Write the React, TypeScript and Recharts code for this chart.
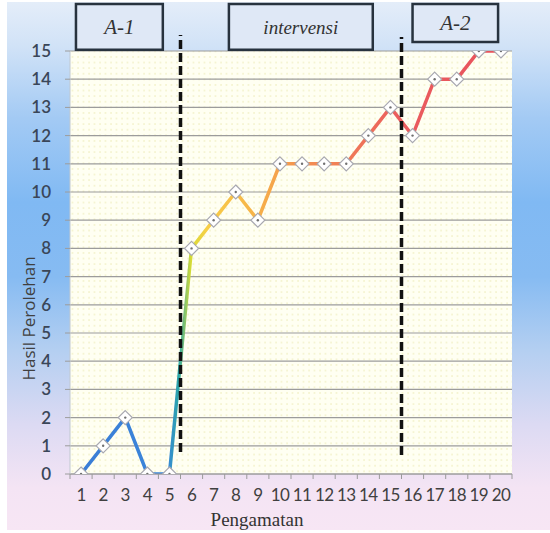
import React from 'react';
import {
  LineChart,
  Line,
  XAxis,
  YAxis,
  CartesianGrid,
  ReferenceLine,
  ReferenceArea,
} from 'recharts';

const observations = [1, 2, 3, 4, 5, 6, 7, 8, 9, 10, 11, 12, 13, 14, 15, 16, 17, 18, 19, 20];
const scores = [0, 1, 2, 0, 0, 8, 9, 10, 9, 11, 11, 11, 11, 12, 13, 12, 14, 14, 15, 15];
const yTicks = [0, 1, 2, 3, 4, 5, 6, 7, 8, 9, 10, 11, 12, 13, 14, 15];
const phaseLabels = ['A-1', 'intervensi', 'A-2'];
const phaseSpans = [
  [0.77, 4.7, 15.04, 16.67],
  [7.69, 14.2, 15.04, 16.67],
  [16.0, 19.87, 15.32, 16.67],
];
const phaseBreaks = [
  [5.5, 0.78, 15.57],
  [15.5, 0.67, 15.5],
];

const data = observations.map((x, i) => ({ x, y: scores[i] }));

const W = 550;
const H = 533;
const M = { top: 51, right: 38, bottom: 0, left: 0 };
const Y_W = 70;
const X_H = 59;
const STEP = (W - M.left - M.right - Y_W) / observations.length;

const XTick = (props: any) => {
  const { x, y, payload } = props;
  const last = payload.value === observations[observations.length - 1];
  return (
    <g>
      <line x1={x - STEP / 2} x2={x - STEP / 2} y1={y} y2={y + 5} stroke="#9a9a9a" />
      {last && <line x1={x + STEP / 2} x2={x + STEP / 2} y1={y} y2={y + 5} stroke="#9a9a9a" />}
      <text
        x={x}
        y={y + 27}
        textAnchor="middle"
        fontFamily="Lato, 'Open Sans', sans-serif"
        fontSize={17}
        fill="#404040"
        letterSpacing={-0.6}
      >
        {payload.value}
      </text>
    </g>
  );
};

const Diamond = (props: any) => {
  const { cx, cy } = props;
  if (cx == null || cy == null) return null;
  const r = 7;
  return (
    <g>
      <polygon
        points={`${cx},${cy - r} ${cx + r},${cy} ${cx},${cy + r} ${cx - r},${cy}`}
        fill="#ffffff"
        stroke="#a8a8b0"
        strokeWidth={1.2}
      />
      <circle cx={cx} cy={cy} r={1.2} fill="#707070" />
    </g>
  );
};

const BoxLabel = (props: any) => {
  const { viewBox, value } = props;
  if (!viewBox) return null;
  const { x, y, width, height } = viewBox;
  return (
    <text
      x={x + width / 2}
      y={y + height / 2 + 7}
      textAnchor="middle"
      fontFamily="'Liberation Serif', 'DejaVu Serif', serif"
      fontStyle="italic"
      fontSize={value === 'intervensi' ? 19 : 21}
      fill="#333333"
    >
      {value}
    </text>
  );
};

const XTitle = (props: any) => {
  const { viewBox } = props;
  if (!viewBox) return null;
  const { x, y, width } = viewBox;
  return (
    <text
      x={x + width / 2 - 34}
      y={y + 52}
      textAnchor="middle"
      fontFamily="'Liberation Serif', 'DejaVu Serif', serif"
      fontSize={19}
      fill="#333333"
    >
      Pengamatan
    </text>
  );
};

const YTitle = (props: any) => {
  const { viewBox } = props;
  if (!viewBox) return null;
  const { x, y, height } = viewBox;
  const cx = x + 35;
  const cy = y + height / 2 + 56;
  return (
    <text
      x={cx}
      y={cy}
      textAnchor="middle"
      transform={`rotate(-90, ${cx}, ${cy})`}
      fontFamily="'Open Sans', sans-serif"
      fontSize={17}
      fill="#404040"
    >
      Hasil Perolehan
    </text>
  );
};

export default function App() {
  return (
    <div style={{ position: 'fixed', left: 0, top: 0, width: W, height: H, background: '#ffffff' }}>
      <div
        style={{
          position: 'absolute',
          left: 7,
          top: 2,
          width: W - 7,
          height: 528,
          background:
            'linear-gradient(to bottom, #e4edf9 0%, #d2e3f7 8%, #a3caf4 22%, #80b9f3 38%, #86bbf2 52%, #b4cff1 66%, #dcdaf3 80%, #f4e4f4 92%, #f7e6f4 100%)',
        }}
      />
      <div style={{ position: 'absolute', left: 0, top: 0 }}>
        <LineChart width={W} height={H} data={data} margin={M}>
          <defs>
            <pattern id="dots" width="5.5" height="5.6" patternUnits="userSpaceOnUse">
              <rect width="5.5" height="5.6" fill="#fffff2" />
              <circle cx="1" cy="1" r="0.7" fill="#e9e6a8" />
            </pattern>
            <linearGradient id="lineGrad" x1="0" y1="0" x2="1" y2="0">
              <stop offset="0" stopColor="#3b7dd6" />
              <stop offset="0.205" stopColor="#3a86da" />
              <stop offset="0.232" stopColor="#2aa6a8" />
              <stop offset="0.262" stopColor="#d8dc34" />
              <stop offset="0.3" stopColor="#f8cf48" />
              <stop offset="0.42" stopColor="#f6b14a" />
              <stop offset="0.52" stopColor="#f4924f" />
              <stop offset="0.66" stopColor="#ef7558" />
              <stop offset="0.76" stopColor="#ea5c5e" />
              <stop offset="1" stopColor="#e8525c" />
            </linearGradient>
          </defs>
          <CartesianGrid vertical={false} stroke="#9c9c9c" strokeWidth={1.2} fill="url(#dots)" />
          <XAxis
            dataKey="x"
            type="number"
            domain={[0.5, 20.5]}
            ticks={observations}
            interval={0}
            tick={<XTick />}
            tickLine={false}
            tickSize={0}
            tickMargin={0}
            height={X_H}
            axisLine={{ stroke: '#9c9c9c' }}
            allowDataOverflow
            label={<XTitle />}
          />
          <YAxis
            type="number"
            domain={[0, 15]}
            ticks={yTicks}
            interval={0}
            width={Y_W}
            tickSize={5}
            tickMargin={14}
            tickLine={{ stroke: '#9c9c9c' }}
            axisLine={{ stroke: '#c0c8d0' }}
            tick={{ fontFamily: "Lato, 'Open Sans', sans-serif", fontSize: 17, fill: '#3a4658', fontWeight: 600 }}
            allowDataOverflow
            label={<YTitle />}
          />
          {phaseSpans.map((s, i) => (
            <ReferenceArea
              key={phaseLabels[i]}
              x1={s[0]}
              x2={s[1]}
              y1={s[2]}
              y2={s[3]}
              ifOverflow="visible"
              fill="#dfe8f6"
              fillOpacity={1}
              stroke="#27323e"
              strokeWidth={2.5}
              label={<BoxLabel value={phaseLabels[i]} />}
            />
          ))}
          <Line
            type="linear"
            dataKey="y"
            stroke="url(#lineGrad)"
            strokeWidth={3.5}
            dot={<Diamond />}
            activeDot={false}
            isAnimationActive={false}
          />
          {phaseBreaks.map((b, i) => (
            <ReferenceLine
              key={i}
              segment={[
                { x: b[0], y: b[1] },
                { x: b[0], y: b[2] },
              ]}
              ifOverflow="visible"
              stroke="#111111"
              strokeWidth={3.5}
              strokeDasharray="9 4"
            />
          ))}
        </LineChart>
      </div>
    </div>
  );
}
